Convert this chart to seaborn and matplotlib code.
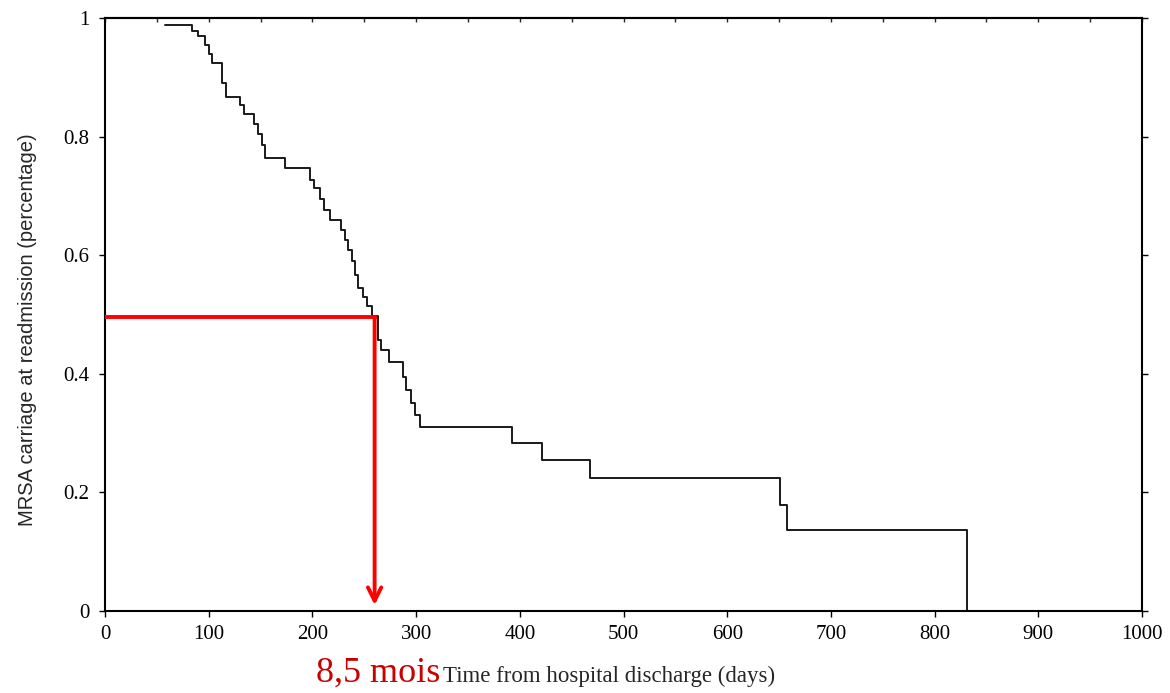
import matplotlib
matplotlib.use('Agg')
import pandas as pd
import matplotlib.pyplot as plt
import seaborn as sns
from matplotlib.ticker import MultipleLocator

# Kaplan-Meier style step curve (day, fraction still carrying MRSA)
days = [58, 84, 90, 96, 100, 103, 113, 117, 130, 134, 144, 148, 151, 154, 174,
        198, 202, 207, 211, 217, 228, 231, 234, 238, 241, 244, 249, 253, 257,
        263, 266, 274, 287, 290, 295, 299, 304, 392, 421, 468, 651, 658, 831, 1000]
carriage = [0.988, 0.978, 0.970, 0.955, 0.940, 0.924, 0.890, 0.867, 0.853, 0.838,
            0.822, 0.805, 0.786, 0.764, 0.747, 0.727, 0.713, 0.695, 0.676, 0.660,
            0.642, 0.625, 0.608, 0.590, 0.567, 0.545, 0.530, 0.515, 0.497, 0.457,
            0.440, 0.420, 0.395, 0.373, 0.350, 0.330, 0.310, 0.283, 0.255, 0.224,
            0.179, 0.137, 0.0, 0.0]

x_ticks = list(range(0, 1001, 100))
y_ticks = [0, 0.2, 0.4, 0.6, 0.8, 1]
y_tick_labels = ['0', '0.2', '0.4', '0.6', '0.8', '1']

# median carriage annotation (red)
median_day = 260
median_level = 0.495
arrow_end = 0.01

df = pd.DataFrame({'days': days, 'carriage': carriage})

sns.set_style('ticks')
plt.rcParams['font.family'] = ['Liberation Serif', 'DejaVu Serif']

fig = plt.figure(figsize=(11.7, 6.93), dpi=100)
ax = fig.add_axes([105 / 1170, 82 / 693, 1037 / 1170, 593 / 693])

sns.lineplot(data=df, x='days', y='carriage', drawstyle='steps-post', estimator=None,
             sort=False, color='#1a1a1a', lw=1.4, ax=ax)

ax.plot([0, median_day], [median_level, median_level], color='#ff0000', lw=2.8,
        solid_capstyle='projecting', zorder=5)
ax.annotate('', xy=(median_day, arrow_end), xytext=(median_day, median_level),
            arrowprops=dict(arrowstyle='->', color='#ff0000', lw=2.8,
                            mutation_scale=24, shrinkA=0, shrinkB=0), zorder=5)

ax.set_xlim(0, 1000)
ax.set_ylim(0, 1)
ax.set_xticks(x_ticks)
ax.set_xticklabels([str(t) for t in x_ticks], fontsize=15)
ax.set_yticks(y_ticks)
ax.set_yticklabels(y_tick_labels, fontsize=15)
ax.tick_params(direction='out', length=4, width=1, right=True, colors='black')
ax.tick_params(axis='x', pad=6)
ax.tick_params(axis='y', pad=7)

# small inward ticks along the top frame
top = ax.secondary_xaxis('top')
top.xaxis.set_major_locator(MultipleLocator(50))
top.tick_params(direction='in', length=3, width=1, labeltop=False)
top.spines['top'].set_linewidth(1.5)

for side in ['left', 'right', 'top', 'bottom']:
    ax.spines[side].set_visible(True)
    ax.spines[side].set_linewidth(1.5)
    ax.spines[side].set_color('black')

ax.set_ylabel('MRSA carriage at readmission (percentage)', fontfamily='Liberation Sans',
              fontsize=14.5)
ax.yaxis.set_label_coords(-0.066, 0.474)

ax.set_xlabel('Time from hospital discharge (days)', fontsize=16.5)
ax.xaxis.set_label_coords((443 - 105) / 1037, (611 - 682) / 593)
ax.xaxis.label.set_ha('left')
ax.xaxis.label.set_va('baseline')

fig.text(316 / 1170, (693 - 682) / 693, '8,5 mois', color='#c80000', fontsize=26,
         ha='left', va='baseline')

fig.savefig('out.png', dpi=100)
plt.close(fig)
